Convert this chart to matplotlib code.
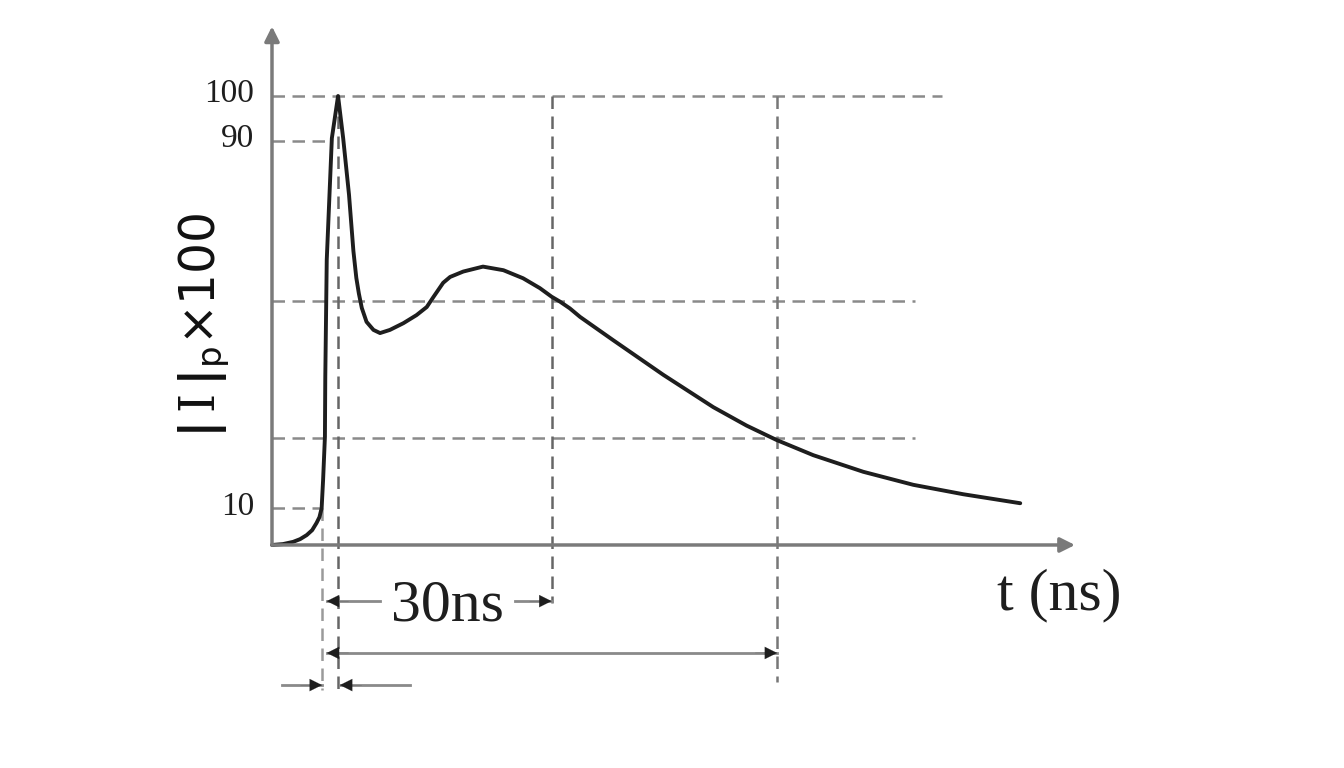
import numpy as np
import matplotlib.pyplot as plt

# waveform: time (ns) vs current (% of peak)
t_ns = [0, 1.5, 2.9, 3.85, 4.75, 5.5, 6.1, 6.5, 6.8, 7.0, 7.25, 7.3,
        7.5, 8.2, 9.05, 9.75, 10.55, 11.15, 11.55, 11.9, 12.3, 12.95,
        13.9, 14.8, 16.15, 18.0, 19.8, 21.2, 22.1, 23.45, 24.4, 26.2,
        28.9, 31.7, 34.4, 36.7, 38.3, 39.45, 40.8, 42.2, 46.75, 53.6,
        60.45, 65.0, 69.1, 74.15, 81.0, 87.85, 94.7, 102.5]
i_pct = [0, 0.2, 0.7, 1.3, 2.2, 3.3, 4.9, 6.2, 8.2, 14.5, 24.1, 37.4,
         63.5, 90.6, 100, 90.6, 78.0, 65.5, 59.5, 56.0, 52.8, 49.7,
         47.9, 47.2, 47.9, 49.4, 51.2, 53.0, 55.2, 58.4, 59.7, 60.9,
         62.0, 61.2, 59.4, 57.2, 55.3, 54.2, 52.7, 50.8, 45.6, 37.9,
         30.7, 26.6, 23.4, 20.0, 16.3, 13.4, 11.3, 9.3]

# reference levels (as drawn) and their labels
levels = [100, 90, 54.3, 23.8, 8.2]
level_labels = ['100', '90', '', '', '10']
level_ends = [91.8, 8.1, 88.1, 88.1, 6.85]

# marker times: 10 % point, peak, 30 ns, 60 ns
t_10, t_peak, t_30, t_60 = 6.85, 9.05, 38.3, 69.2

plt.rcParams['mathtext.fontset'] = 'dejavuserif'
fig = plt.figure(figsize=(13.44, 7.68), dpi=100)
ax = fig.add_axes([0, 0, 1, 1])
ax.set_xlim(-37.26, 146.85)
ax.set_ylim(-49.67, 121.38)
ax.axis('off')

grey = '#8a8a8a'
dash = (0, (5, 3))

# horizontal dashed levels
for lv, end in zip(levels, level_ends):
    ax.plot([0, end], [lv, lv], color=grey, lw=1.8, linestyle=dash)

# vertical dashed markers
ax.plot([t_10, t_10], [8.2, -32.3], color='#9a9a9a', lw=1.8, linestyle=dash)
ax.plot([t_peak, t_peak], [100, -32.3], color='#666666', lw=1.8, linestyle=dash)
ax.plot([t_30, t_30], [100, -12.9], color='#666666', lw=1.8, linestyle=dash)
ax.plot([t_60, t_60], [100, -30.5], color='#777777', lw=1.8, linestyle=dash)

# axes with arrows
ax.annotate('', xy=(0, 115.5), xytext=(0, 0),
            arrowprops=dict(arrowstyle='-|>', color='#7a7a7a', lw=2.5,
                            mutation_scale=22, shrinkA=0, shrinkB=0))
ax.annotate('', xy=(110.0, 0), xytext=(0, 0),
            arrowprops=dict(arrowstyle='-|>', color='#7a7a7a', lw=2.5,
                            mutation_scale=22, shrinkA=0, shrinkB=0))

# waveform
ax.plot(t_ns, i_pct, color='#1e1e1e', lw=2.8, solid_joinstyle='round',
        solid_capstyle='round')

def head(x_tip, x_from, y):
    ax.annotate('', xy=(x_tip, y), xytext=(x_from, y),
                arrowprops=dict(arrowstyle='-|>', color='#1e1e1e', lw=0.1,
                                mutation_scale=22, shrinkA=0, shrinkB=0))

# 30 ns dimension
y1 = -12.5
ax.plot([7.5, 14.8], [y1, y1], color=grey, lw=2)
head(7.5, 10.5, y1)
ax.plot([33.3, t_30], [y1, y1], color=grey, lw=2)
head(t_30, 35.3, y1)
ax.text(24.0, -13.6, '30ns', family='Liberation Serif', fontsize=43,
        ha='center', va='center', color='#1e1e1e')

# 60 ns dimension
y2 = -24.05
ax.plot([7.5, t_60], [y2, y2], color=grey, lw=2)
head(7.5, 10.5, y2)
head(t_60, 66.2, y2)

# rise time marks
y3 = -31.2
ax.plot([1.4, t_10], [y3, y3], color=grey, lw=2)
head(t_10, 3.9, y3)
ax.plot([9.3, 18.9], [y3, y3], color=grey, lw=2)
head(9.3, 12.3, y3)

# level labels
for lv, lab in zip(levels, level_labels):
    if lab:
        ax.text(-2.4, lv + 0.4, lab, family='Liberation Serif', fontsize=24,
                ha='right', va='center', color='#1e1e1e')

ax.text(107.8, -11.2, 't (ns)', family='Liberation Serif', fontsize=43,
        ha='center', va='center', color='#1e1e1e')
ax.text(-9.3, 49, r'$\mathbf{|}\,\mathrm{I}\,\mathbf{|}_{\mathsf{p}}$' + '×100',
        fontsize=35, rotation=90, ha='center', va='center', color='#111111')

fig.savefig('out.png', dpi=100, facecolor='white')
